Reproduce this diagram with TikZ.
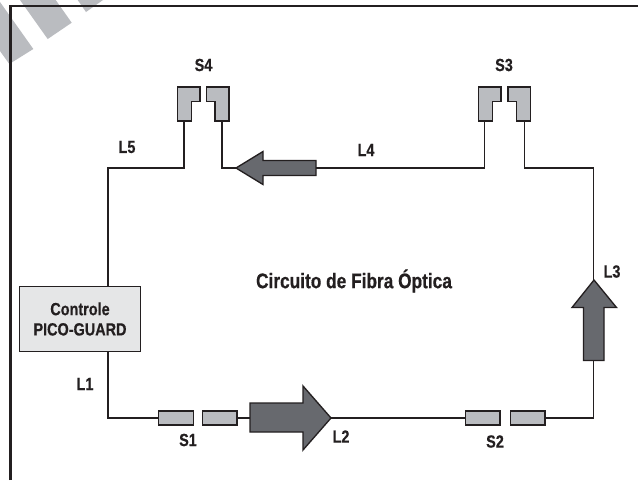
\documentclass[tikz,border=0pt]{standalone}
\usepackage{fontspec}
\setmainfont[FakeStretch=0.82,BoldFeatures={FakeBold=0.5}]{Liberation Sans}
\definecolor{connGray}{RGB}{186,188,192}
\definecolor{arrowGray}{RGB}{103,105,110}
\definecolor{boxGray}{RGB}{229,230,231}
\definecolor{inkGray}{RGB}{35,31,32}
\tikzset{
  px/.style={x=0.75pt,y=-0.75pt},
  wire/.style={draw=inkGray,line width=0.9pt,line join=miter},
  conn/.style={draw=inkGray,fill=connGray,line width=1pt,line join=miter},
  flow/.style={draw=inkGray,fill=arrowGray,line width=1pt,line join=miter},
  lbl/.style={font=\bfseries\fontsize{13.2pt}{15pt}\selectfont,text=inkGray,inner sep=0pt},
  ctrl/.style={draw=inkGray,fill=boxGray,line width=1.1pt,minimum width=90.5pt,minimum height=49pt,inner sep=0pt,align=center,font=\bfseries\fontsize{13.2pt}{15.2pt}\selectfont,text=inkGray},
  hconn/.style={conn,minimum width=26pt,minimum height=10.5pt,inner sep=0pt}
}
\begin{document}
\begin{tikzpicture}[px]
\useasboundingbox (0,0) rectangle (638,480);
\fill[white] (0,0) rectangle (638,480);
% corner stripes
\fill[connGray] (0,2) -- (33.3,49) -- (9.3,64) -- (0,51) -- cycle;
\fill[connGray] (20,0) -- (55.7,0) -- (71.7,22.7) -- (47.7,39) -- cycle;
\fill[connGray] (77.7,0) -- (103,0) -- (86,12) -- cycle;
% frame
\draw[draw=inkGray,line width=1.7pt] (10.5,480) -- (10.5,6) -- (638,6);
% wire corners
\coordinate (s4lb) at (184,121);
\coordinate (s4rb) at (222,121);
\coordinate (s3lb) at (484.5,121);
\coordinate (s3rb) at (524.5,121);
\coordinate (c5) at (108,168);
\coordinate (c5b) at (184,168);
\coordinate (c4) at (222,168);
\coordinate (c4b) at (484.5,168);
\coordinate (c3a) at (524.5,168);
\coordinate (c3b) at (593.5,168);
\coordinate (c3c) at (593.5,418);
\coordinate (c1) at (108,418);
% controller
\node[ctrl] (ctrl) at (80,319) {Controle\\PICO-GUARD};
% arrows
\draw[flow] (316,160.5) -- (263,160.5) -- (263,151.5) -- (236,168) -- (263,184.5) -- (263,175.5) -- (316,175.5) -- cycle;
\coordinate (aw4r) at (316,168);
\coordinate (aw4l) at (236,168);
\draw[flow] (250,403) -- (303,403) -- (303,386) -- (331,418) -- (303,450) -- (303,432) -- (250,432) -- cycle;
\coordinate (aw2l) at (250,418);
\coordinate (aw2r) at (331,418);
\draw[flow] (583.5,360.5) -- (583.5,307.5) -- (572,307.5) -- (594,280) -- (616.5,307.5) -- (604,307.5) -- (604,360.5) -- cycle;
\coordinate (aw3t) at (593.5,280);
\coordinate (aw3b) at (593.5,360.5);
% S1 S2
\node[hconn] (s1a) at (176,418) {};
\node[hconn] (s1b) at (219.5,418) {};
\node[hconn] (s2a) at (482.5,418) {};
\node[hconn] (s2b) at (527.5,418) {};
% wires by name
\draw[wire] (ctrl.north -| c5) -- (c5) -- (c5b) -- (s4lb);
\draw[wire] (s4rb) -- (c4) -- (aw4l);
\draw[wire] (aw4r) -- (c4b) -- (s3lb);
\draw[wire] (s3rb) -- (c3a) -- (c3b) -- (aw3t);
\draw[wire] (aw3b) -- (c3c) -- (s2b.east);
\draw[wire] (s2a.west) -- (aw2r);
\draw[wire] (s1b.east) -- (aw2l);
\draw[wire] (ctrl.south -| c1) -- (c1) -- (s1a.west);
% S4
\draw[conn] (177.5,87) -- (200,87) -- (200,101.5) -- (191.5,101.5) -- (191.5,121) -- (177.5,121) -- cycle;
\draw[conn] (229,87) -- (206.5,87) -- (206.5,101.5) -- (215,101.5) -- (215,121) -- (229,121) -- cycle;
% S3
\draw[conn] (478.5,87) -- (501,87) -- (501,101.5) -- (492.5,101.5) -- (492.5,121) -- (478.5,121) -- cycle;
\draw[conn] (530.5,87) -- (508,87) -- (508,101.5) -- (516.5,101.5) -- (516.5,121) -- (530.5,121) -- cycle;
% labels
\node[lbl] (ls4) at (203.5,65) {S4};
\node[lbl] (ls3) at (504,65) {S3};
\node[lbl] (l5) at (127,147) {L5};
\node[lbl] (l4) at (366,150) {L4};
\node[lbl] (l3) at (612,271.5) {L3};
\node[lbl] (l1) at (85,384) {L1};
\node[lbl] (l2) at (341,436.5) {L2};
\node[lbl] (ls1) at (188,440) {S1};
\node[lbl] (ls2) at (495,441.5) {S2};
\node[lbl,font=\bfseries\fontsize{15.8pt}{18pt}\selectfont] (title) at (354,281) {Circuito de Fibra Óptica};
\end{tikzpicture}
\end{document}
